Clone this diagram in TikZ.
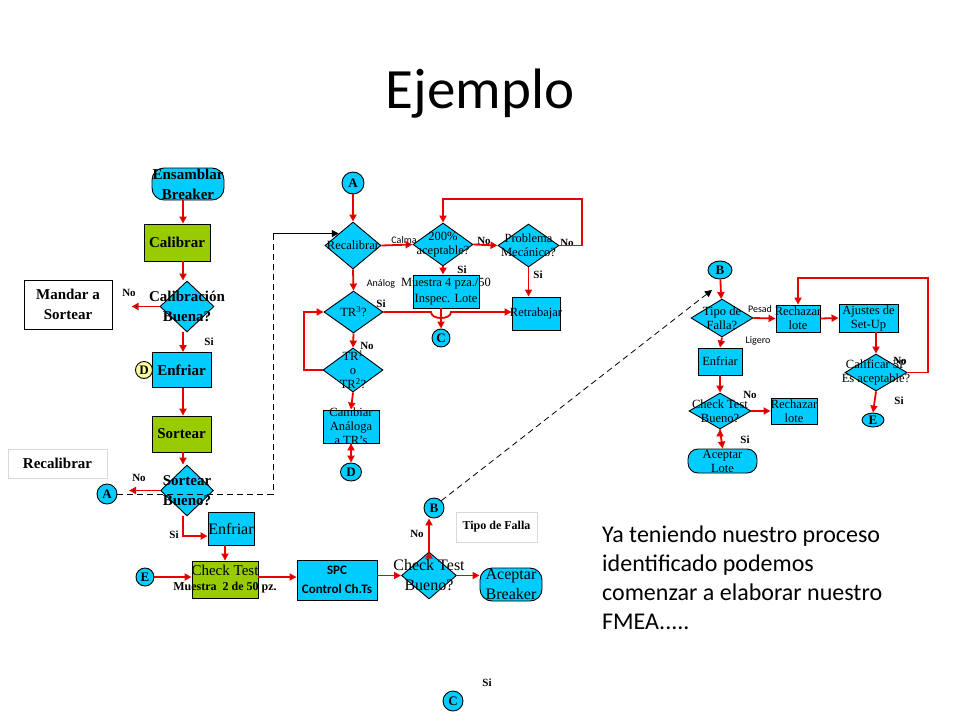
\documentclass[tikz,border=0pt]{standalone}
\usepackage{fontspec}
\setmainfont{Liberation Serif}
\newfontfamily\slidefont{Carlito}
\usetikzlibrary{shapes.geometric,arrows.meta}

\definecolor{boxcyan}{RGB}{0,204,255}
\definecolor{boxgreen}{RGB}{153,204,0}
\definecolor{flowred}{RGB}{235,0,0}
\definecolor{padyellow}{RGB}{255,255,153}

\tikzset{
  proc/.style={draw, fill=boxcyan, inner sep=0pt, line width=0.9pt},
  okbox/.style={proc, fill=boxgreen},
  term/.style={proc, rounded corners=12pt},
  decis/.style={diamond, draw, fill=boxcyan, inner sep=0pt, line width=0.9pt},
  conn/.style={circle, draw, fill=boxcyan, inner sep=0pt, minimum size=#1, line width=0.9pt,
    font=\bfseries\fontsize{13}{13}\selectfont},
  conn/.default=20pt,
  oval/.style={ellipse, draw, fill=boxcyan, inner sep=0pt, line width=0.9pt,
    font=\bfseries\fontsize{13}{13}\selectfont},
  note/.style={draw=black!15, fill=white, inner sep=0pt},
  bigbf/.style={label={[align=center, inner sep=0pt, font=\bfseries\fontsize{15}{20}\selectfont]center:{#1}}},
  smallrm/.style={label={[align=center, inner sep=0pt, font=\fontsize{12.5}{14}\selectfont]center:{#1}}},
  bigrm/.style={label={[align=center, inner sep=0pt, font=\fontsize{16}{20}\selectfont]center:{#1}}},
  yn/.style={font=\bfseries\fontsize{11}{11}\selectfont, inner sep=0pt},
  side/.style={font=\slidefont\fontsize{10}{10}\selectfont, inner sep=0pt},
  flow/.style={->, draw=flowred, line width=1.8pt},
  jump/.style={draw, dash pattern=on 6pt off 4pt, line width=0.8pt},
}

\begin{document}
\begin{tikzpicture}[x=1pt, y=-1pt, >={Triangle[length=7pt,width=7pt]}]
	\fill[white] (0,0) rectangle (960,720);
	\useasboundingbox (0,0) rectangle (960,720);

	\node[font=\slidefont\fontsize{57}{60}\selectfont, anchor=base] (title) at (480,108) {Ejemplo};

	% main line
	\node[term, minimum width=72, minimum height=32, bigbf={Ensamblar\\Breaker}] (ens) at (188,184) {};
	\node[okbox, minimum width=66, minimum height=37, bigbf={Calibrar}] (cal) at (177,242.5) {};
	\node[decis, minimum width=54, minimum height=51, bigbf={Calibraci\'on\\Buena?}] (calq) at (187,306.5) {};
	\node[proc, fill=white, minimum width=88, minimum height=49, bigbf={Mandar a\\Sortear}] (mandar) at (68,304.5) {};
	\node[proc, minimum width=59, minimum height=35, bigbf={Enfriar}] (enf1) at (181.5,370) {};
	\node[conn=17pt, fill=padyellow] (D1) at (144,370) {D};
	\node[okbox, minimum width=59, minimum height=36, bigbf={Sortear}] (sort) at (181.5,434) {};
	\node[note, minimum width=99, minimum height=29, bigbf={Recalibrar}] (recbox) at (57.5,463.5) {};
	\node[decis, minimum width=53, minimum height=51, bigbf={Sortear\\Bueno?}] (sortq) at (187,490.5) {};
	\node[conn] (A1) at (107,494) {A};
	\node[proc, minimum width=46, minimum height=33, bigrm={Enfriar}] (enf2) at (231,528.5) {};
	\node[okbox, minimum width=66, minimum height=37,
	      label={[align=center, inner sep=0pt]center:{\fontsize{15}{15}\selectfont Check Test\\[3pt]\bfseries\fontsize{12}{12}\selectfont Muestra\ \ 2 de 50 pz.}}] (chk1) at (225,579.5) {};
	\node[conn=18pt] (E1) at (145,577) {E};
	\node[proc, minimum width=80, minimum height=40,
	      label={[align=center, inner sep=0pt, font=\slidefont\bfseries\fontsize{13}{19}\selectfont]center:{SPC\\Control Ch.Ts}}] (spc) at (337,580) {};
	\node[decis, minimum width=55, minimum height=47, bigrm={Check Test\\Bueno?}] (chkq) at (429,575.5) {};
	\node[term, minimum width=62, minimum height=33, bigrm={Aceptar\\Breaker}] (acb) at (511,584.5) {};
	\node[conn] (B2) at (434,508) {B};
	\node[note, minimum width=81, minimum height=30, font=\bfseries\fontsize{12}{12}\selectfont] (tipoF) at (496.5,527) {Tipo de Falla};
	\node[conn] (C3) at (453,701) {C};

	% recalibrar
	\node[conn=22pt] (A2) at (353,183) {A};
	\node[side] (calma) at (404,240) {Calma};
	\node[side] (analog) at (381,284) {An\'alog};
	\node[decis, minimum width=56, minimum height=47, smallrm={Recalibrar}] (recal) at (353,245.5) {};
	\node[decis, minimum width=60, minimum height=43, smallrm={200\%\\aceptable?}] (q200) at (443,244.5) {};
	\node[decis, minimum width=61, minimum height=43, smallrm={Problema\\Mec\'anico?}] (qmec) at (528.5,245.5) {};
	\node[proc, minimum width=48, minimum height=33, smallrm={Retrabajar}] (retr) at (536,313.5) {};
	\node[proc, minimum width=66, minimum height=33, smallrm={Muestra 4 pza./50\\[2pt]Inspec. Lote}] (muest) at (446,291.5) {};
	\node[conn=18pt] (C2) at (441,338) {C};
	\node[decis, minimum width=59, minimum height=42, smallrm={TR\textsuperscript{3}?}] (tr3) at (353.5,312) {};
	\node[decis, minimum width=60, minimum height=44, smallrm={TR\textsuperscript{1}\\o\\TR\textsuperscript{2}?}] (tr12) at (353,370) {};
	\node[proc, minimum width=56, minimum height=33, smallrm={Cambiar\\An\'aloga\\a TR's}] (camb) at (351,426.5) {};
	\node[oval, minimum width=21, minimum height=18] (D2) at (351,472) {D};

	% tipo de falla
	\node[oval, minimum width=24, minimum height=18] (B3) at (720,270) {B};
	\node[side] (pesad) at (760,309) {Pesad};
	\node[decis, minimum width=62, minimum height=38, smallrm={Tipo de\\Falla?}] (tipo) at (722,318) {};
	\node[proc, minimum width=44, minimum height=27, smallrm={Rechazar\\lote}] (rech1) at (798,318.5) {};
	\node[proc, minimum width=59, minimum height=28, smallrm={Ajustes de\\Set-Up}] (ajus) at (868.5,318) {};
	\node[decis, minimum width=62, minimum height=37, smallrm={Calificar 3P\\Es aceptable?}] (calif) at (876,372.5) {};
	\node[oval, minimum width=22, minimum height=14] (E3) at (873,420) {E};
	\node[side] (ligero) at (758,341) {Ligero};
	\node[proc, minimum width=44, minimum height=27, smallrm={Enfriar}] (enf3) at (720,361.5) {};
	\node[decis, minimum width=62, minimum height=36, smallrm={Check Test\\Bueno?}] (chk3) at (720,411) {};
	\node[proc, minimum width=46, minimum height=26, smallrm={Rechazar\\lote}] (rech2) at (794,411) {};
	\node[term, rounded corners=10pt, minimum width=69, minimum height=24, smallrm={Aceptar\\Lote}] (acl) at (722.5,461) {};

	\node[font=\slidefont\fontsize{24}{29}\selectfont, align=left, anchor=north west, inner sep=0pt] (fmea) at (602,526)
	     {Ya teniendo nuestro proceso\\identificado podemos\\comenzar a elaborar nuestro\\FMEA.....};

	% si / no
	\node[yn] (n1) at (129,293) {No};
	\node[yn] (s1) at (209,342) {Si};
	\node[yn] (n2) at (139,478) {No};
	\node[yn] (s2) at (174,535) {Si};
	\node[yn] (n3) at (417,534) {No};
	\node[yn] (s3) at (487,683) {Si};
	\node[yn] (n4) at (484,241) {No};
	\node[yn] (n5) at (567,243) {No};
	\node[yn] (s4) at (462,270) {Si};
	\node[yn] (s5) at (538,275) {Si};
	\node[yn] (s6) at (381,304) {Si};
	\node[yn] (n6) at (367,346) {No};
	\node[yn] (n7) at (900,361) {No};
	\node[yn] (s7) at (899,401) {Si};
	\node[yn] (n8) at (750,395) {No};
	\node[yn] (s8) at (745,440) {Si};

	\coordinate (colL) at (183,0);
	\coordinate (jog) at (273,494);
	\coordinate (jogtop) at (recal.north west -| jog);
	\coordinate (mecR) at (582,199);
	\coordinate (loopL) at (304,312);
	\coordinate (califR) at (928,278);
	\coordinate (btip) at (712,290);

	\path[flow]
	 (ens.south -| colL) edge (cal.north -| colL)
	 (cal.south -| colL) edge (calq.north -| colL)
	 (calq.west) edge ([xshift=-28pt]calq.west)
	 (calq.south -| colL) edge (enf1.north -| colL)
	 (enf1.south -| colL) edge (sort.north -| colL)
	 (sort.south -| colL) edge (sortq.north -| colL)
	 (sortq.west) edge ([xshift=-31pt]sortq.west)
	 (enf2.south -| chk1.north) edge (chk1.north)
	 (E1.east) edge (chk1.west |- E1)
	 (chk1.east |- E1) edge (spc.west |- E1)
	 (spc.east |- chkq) edge (chkq.west)
	 (chkq.east) edge (acb.west |- chkq)
	 (chkq.north) edge (chkq.north |- B2.south);
	\draw[flow] (sortq.south -| colL) |- (enf2.west |- 0,536);

	\path[flow]
	 (A2) edge (recal)
	 (recal.east) edge (q200.west)
	 (q200.east) edge (qmec.west)
	 (qmec.south) edge (qmec.south |- retr.north)
	 (q200.south) edge (q200.south |- muest.north)
	 (muest.south -| C2) edge (C2.north)
	 (recal.south) edge (tr3.north)
	 (tr3.south) edge (tr12.north)
	 (tr12.south) edge (camb.north)
	 (camb.south) edge (D2.north);
	\draw[flow] (qmec.east) -| (mecR) -| (q200.north);
	\draw[flow] (tr12.west) -| (loopL) -- (tr3.west);
	\draw[flow] (tr3.east) -- ([xshift=-10pt]C2 |- tr3.east)
	     .. controls +(0,8) and +(0,8) .. ([xshift=10pt]C2 |- tr3.east) -- (retr.west |- tr3.east);

	\path[flow]
	 (B3) edge (tipo)
	 (tipo.east) edge (rech1.west)
	 (rech1.east) edge (ajus.west)
	 (calif.north |- ajus.south) edge (calif.north)
	 (calif.south) edge (E3.north)
	 (tipo.south) edge (enf3.north)
	 (enf3.south) edge (chk3.north)
	 (chk3.east) edge (rech2.west)
	 (chk3.south) edge (acl.north);
	\draw[flow] (calif.east) -| (califR) -| (rech1.north);

	% saltos punteados
	\draw[jump] (A1.east) -- (jog) -- (jogtop);
	\draw[->, line width=0.8pt] (jogtop) -- (recal.north west);
	\draw[jump, ->] (B2.north east) -- (btip);
\end{tikzpicture}
\end{document}
